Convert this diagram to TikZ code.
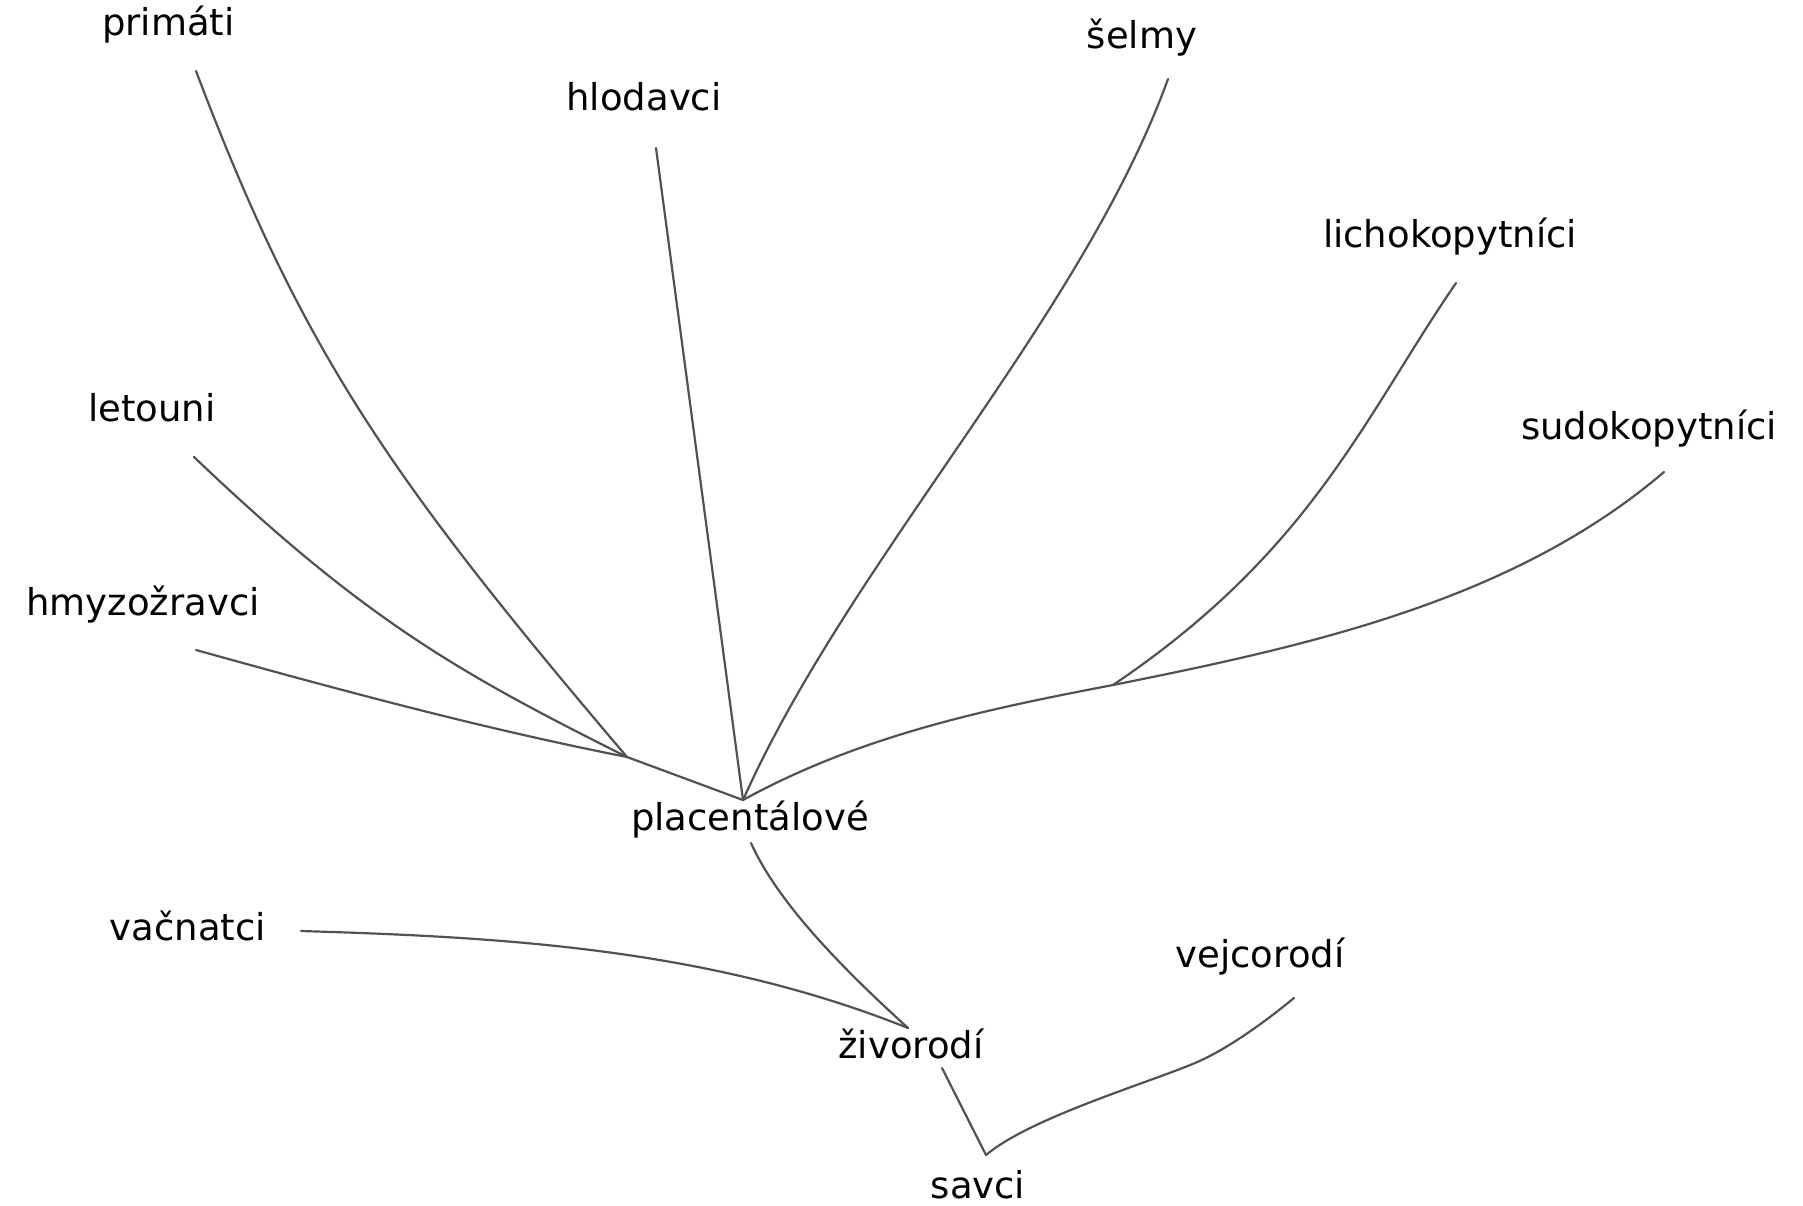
\documentclass[tikz,border=0pt]{standalone}
\usepackage{fontspec}
\setmainfont{DejaVu Sans}
\begin{document}
\begin{tikzpicture}[x=1pt,y=-1pt,
  lbl/.style={font=\fontsize{37}{44}\selectfont, anchor=base, inner sep=0pt, text=black},
  branch/.style={draw=black!68, line width=2.2pt, line cap=round}]
\useasboundingbox[fill=white] (0,0) rectangle (1803,1205);

% labels
\node[lbl] (primati)   at (168.5,35)  {primáti};
\node[lbl] (hlodavci)  at (644,110)   {hlodavci};
\node[lbl] (selmy)     at (1142,48)   {šelmy};
\node[lbl] (licho)     at (1450,247)  {lichokopytníci};
\node[lbl] (sudo)      at (1649,439)  {sudokopytníci};
\node[lbl] (letouni)   at (152,421)   {letouni};
\node[lbl] (hmyz)      at (143,615)   {hmyzožravci};
\node[lbl] (plac)      at (750,830)   {placentálové};
\node[lbl] (vacnatci)  at (188,940)   {vačnatci};
\node[lbl] (zivorodi)  at (911,1058)  {živorodí};
\node[lbl] (vejcorodi) at (1260,967)  {vejcorodí};
\node[lbl] (savci)     at (978,1198)  {savci};

% junctions
\coordinate (pP) at (743,800);
\coordinate (pL) at (627,757);
\coordinate (pR) at (1113,685);
\coordinate (pZ) at (908,1028);
\coordinate (pS) at (986,1155);
\coordinate (mVejc) at (1195,1063);
% branch ends below the labels
\coordinate (ePrim) at (196,71);
\coordinate (eHlod) at (656,148);
\coordinate (eSelm) at (1168,79);
\coordinate (eLich) at (1456,283);
\coordinate (eSudo) at (1664,472);
\coordinate (eLet)  at (194,457);
\coordinate (eHmyz) at (196,650);
\coordinate (eVac)  at (301,931);
\coordinate (eVejc) at (1294,998);
\coordinate (ePlac) at (751,843);
\coordinate (eZiv)  at (942,1068);

% branches
\draw[branch] (ePrim) .. controls (302,351) and (389,477) .. (pL);
\draw[branch] (eLet) .. controls (364,619) and (457,672) .. (pL);
\draw[branch] (eHmyz) .. controls (340,690) and (480,728) .. (pL);
\draw[branch] (pL) -- (pP);
\draw[branch] (eHlod) -- (pP);
\draw[branch] (eSelm) .. controls (1081,319) and (850,560) .. (pP);
\draw[branch] (eLich) .. controls (1364,417) and (1312,551) .. (pR);
\draw[branch] (eSudo) .. controls (1514,600) and (1313,645) .. (pR)
                      .. controls (993,708) and (863,734) .. (pP);
\draw[branch] (ePlac) .. controls (778,903) and (842,968) .. (pZ);
\draw[branch] (eVac) .. controls (501,937) and (708,948) .. (pZ);
\draw[branch] (eZiv) -- (pS);
\draw[branch] (eVejc) .. controls (1266,1021) and (1228,1049) .. (mVejc)
                      .. controls (1145,1084) and (1030,1118) .. (pS);
\end{tikzpicture}
\end{document}
